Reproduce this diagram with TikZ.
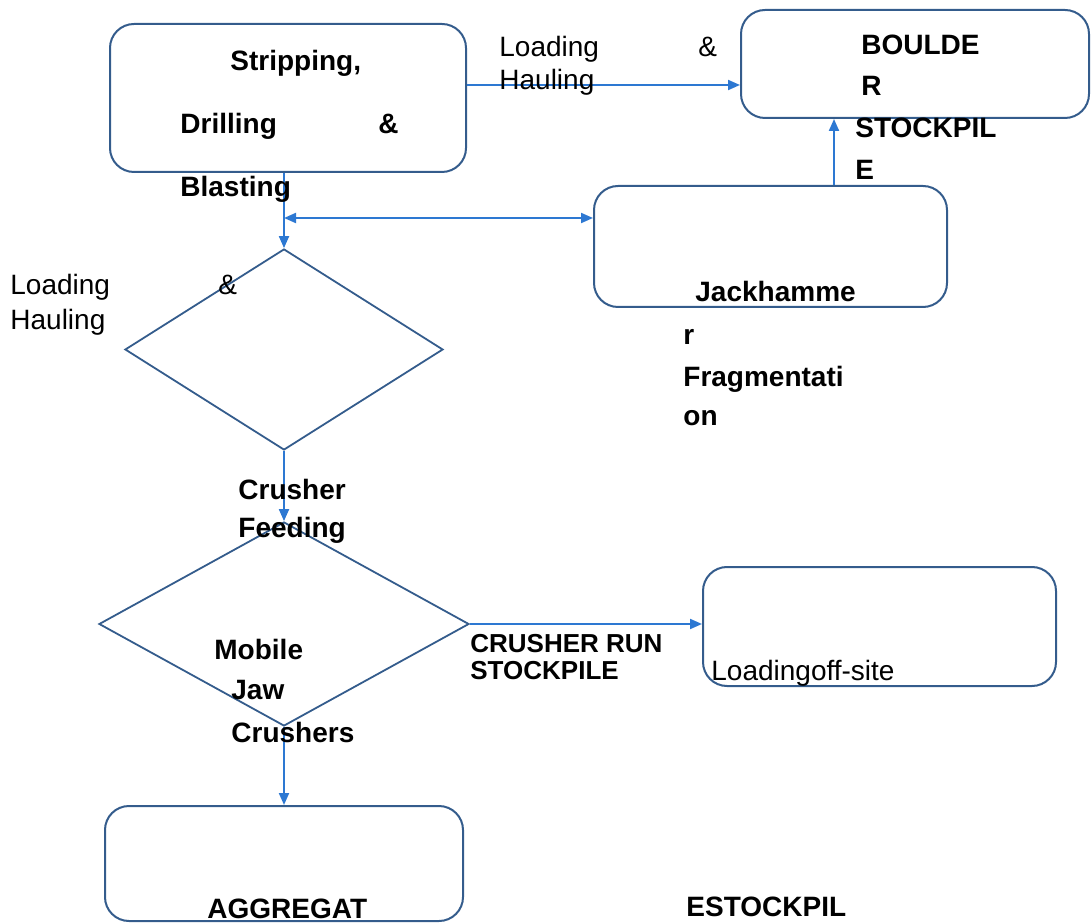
\documentclass[tikz,border=0pt]{standalone}
\usepackage{fontspec}
\setmainfont{Liberation Sans}
\usetikzlibrary{arrows.meta,shapes.geometric}

\definecolor{boxline}{RGB}{52,92,140}
\definecolor{arrline}{RGB}{45,120,210}

\tikzset{
  stage/.style={draw=boxline,line width=1pt,rounded corners=12pt,inner sep=0pt},
  decide/.style={draw=boxline,line width=0.9pt,shape=diamond,inner sep=0pt},
  flow/.style={draw=arrline,line width=1pt,-{Triangle[length=6pt,width=5pt]}},
  bothflow/.style={draw=arrline,line width=1pt,{Triangle[length=6pt,width=5pt]}-{Triangle[length=6pt,width=5pt]}},
  txt/.style={anchor=base west,inner sep=0pt,font=\fontsize{14}{16}\selectfont},
  btxt/.style={txt,font=\fontsize{14}{16}\selectfont\bfseries}
}

\begin{document}
\begin{tikzpicture}[x=0.5pt,y=-0.5pt]
        \useasboundingbox (0,0) rectangle (1091,924);

        % boxes
        \node[stage,minimum width=178pt,minimum height=74pt] (strip) at (288,98) {};
        \node[stage,minimum width=174pt,minimum height=54pt] (boulder) at (915,64) {};
        \node[stage,minimum width=176.5pt,minimum height=60.5pt] (jack) at (770.5,246.5) {};
        \node[stage,minimum width=176.5pt,minimum height=59.5pt] (offsite) at (879.5,626.5) {};
        \node[stage,minimum width=179pt,minimum height=57.5pt] (aggr) at (284,863.5) {};

        % diamonds
        \node[decide,minimum width=159pt,minimum height=100.5pt,aspect=1.58] (load) at (284,349.5) {};
        \node[decide,minimum width=185pt,minimum height=102pt,aspect=1.81] (crush) at (284,624) {};

        % connectors
        \draw[flow] ([yshift=6.5pt]strip.east) -- ([yshift=6.5pt]strip.east -| boulder.west);
        \draw[flow] ([xshift=31.75pt]jack.north) -- ([xshift=31.75pt]jack.north |- boulder.south);
        \coordinate (tee) at (load.north |- 0,218);
        \draw[flow] (strip.south -| load.north) -- (load.north);
        \draw[bothflow] (tee) -- (tee -| jack.west);
        \draw[flow] (load.south) -- (crush.north);
        \draw[flow] (crush.east) -- (crush.east -| offsite.west);
        \draw[flow] (crush.south) -- (aggr.north);

        % labels
        \node[btxt] (t1) at (230,71) {Stripping,};
        \node[btxt] (t2) at (180,134) {Drilling};
        \node[btxt] (t3) at (378,134) {\&};
        \node[btxt] (t4) at (180,197) {Blasting};

        \node[txt] (h1) at (499,57) {Loading};
        \node[txt] (h2) at (698,57) {\&};
        \node[txt] (h3) at (499,90) {Hauling};

        \node[btxt] (b1) at (861,55) {BOULDE};
        \node[btxt] (b2) at (861,96) {R};
        \node[btxt] (b3) at (855,138) {STOCKPIL};
        \node[btxt] (b4) at (855,180) {E};

        \node[btxt] (j1) at (695,302) {Jackhamme};
        \node[btxt] (j2) at (683,345) {r};
        \node[btxt] (j3) at (683,387) {Fragmentati};
        \node[btxt] (j4) at (683,426) {on};

        \node[txt] (l1) at (10,295) {Loading};
        \node[txt] (l2) at (218,295) {\&};
        \node[txt] (l3) at (10,330) {Hauling};

        \node[btxt] (c1) at (238,499) {Crusher};
        \node[btxt] (c2) at (238,538) {Feeding};

        \node[btxt] (m1) at (214,659) {Mobile};
        \node[btxt] (m2) at (231,699) {Jaw};
        \node[btxt] (m3) at (231,742) {Crushers};

        \node[btxt,font=\fontsize{13}{15}\selectfont\bfseries] (r1) at (470,652) {CRUSHER RUN};
        \node[btxt,font=\fontsize{13}{15}\selectfont\bfseries] (r2) at (470,679) {STOCKPILE};
        \node[txt] (o1) at (711,680) {Loadingoff-site};

        \node[btxt] (a1) at (207,918) {AGGREGAT};
        \node[btxt] (a2) at (686,916) {ESTOCKPIL};
    \end{tikzpicture}
\end{document}
